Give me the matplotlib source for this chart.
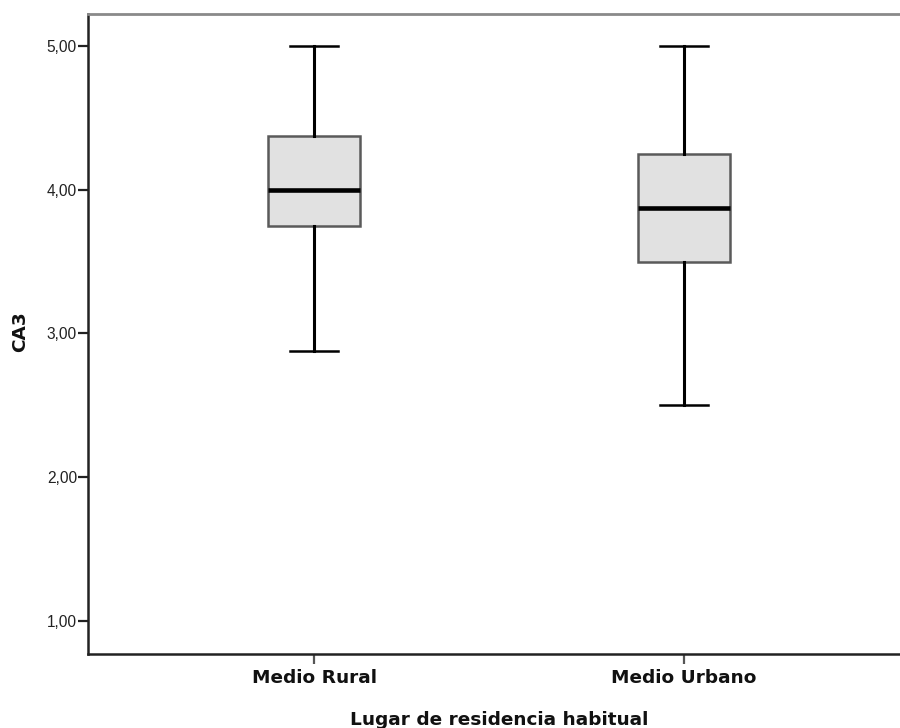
import matplotlib
matplotlib.use("Agg")
import matplotlib.pyplot as plt

# Box plot summary of CA3 by place of residence
categories = ["Medio Rural", "Medio Urbano"]
whisker_low = [2.875, 2.50]
q1 = [3.75, 3.50]
median = [4.00, 3.875]
q3 = [4.375, 4.25]
whisker_high = [5.00, 5.00]

y_ticks = [1.0, 2.0, 3.0, 4.0, 5.0]
y_tick_labels = ["1,00", "2,00", "3,00", "4,00", "5,00"]

fig = plt.figure(figsize=(9, 7.28), dpi=100)
W, H = 900, 728
left_px, right_px, top_px, bottom_px = 88, 910, 14, 654
ax = fig.add_axes([left_px / W, 1 - bottom_px / H,
                   (right_px - left_px) / W, (bottom_px - top_px) / H])

stats = []
for i, name in enumerate(categories):
    stats.append(dict(label=name, whislo=whisker_low[i], q1=q1[i],
                      med=median[i], q3=q3[i], whishi=whisker_high[i],
                      fliers=[]))

positions = [1, 2]
ax.bxp(stats, positions=positions, widths=0.25, patch_artist=True,
       showfliers=False,
       boxprops=dict(facecolor="#e1e1e1", edgecolor="#5a5a5a", linewidth=1.8),
       medianprops=dict(color="black", linewidth=3.3, solid_capstyle="butt"),
       whiskerprops=dict(color="black", linewidth=2.2),
       capprops=dict(color="black", linewidth=1.8),
       capwidths=0.13)

ax.set_xlim(0.389, 2.611)
ax.set_ylim(0.77, 5.222)

ax.set_yticks(y_ticks)
ax.set_yticklabels(y_tick_labels, fontfamily="Liberation Sans",
                   fontsize=11.2, color="#222222")
ax.set_xticks(positions)
ax.set_xticklabels(categories, fontfamily="DejaVu Sans", fontweight="bold",
                   fontsize=13.3, color="#111111")

ax.tick_params(axis="y", length=7, width=1.6, color="#222222", pad=1)
ax.tick_params(axis="x", length=7, width=1.6, color="#555555", pad=4)

for side in ("left", "bottom"):
    ax.spines[side].set_linewidth(1.8)
    ax.spines[side].set_color("#222222")
ax.spines["top"].set_linewidth(2.0)
ax.spines["top"].set_color("#8a8a8a")
ax.spines["right"].set_visible(False)

fig.text(20 / W, 1 - 332 / H, "CA3", rotation=90, ha="center", va="center",
         fontfamily="DejaVu Sans", fontweight="bold", fontsize=13.3,
         color="#111111")
fig.text(499.5 / W, 3 / H, "Lugar de residencia habitual", ha="center",
         va="baseline", fontfamily="DejaVu Sans", fontweight="bold",
         fontsize=13.3, color="#111111")

fig.savefig("out.png", dpi=100)
